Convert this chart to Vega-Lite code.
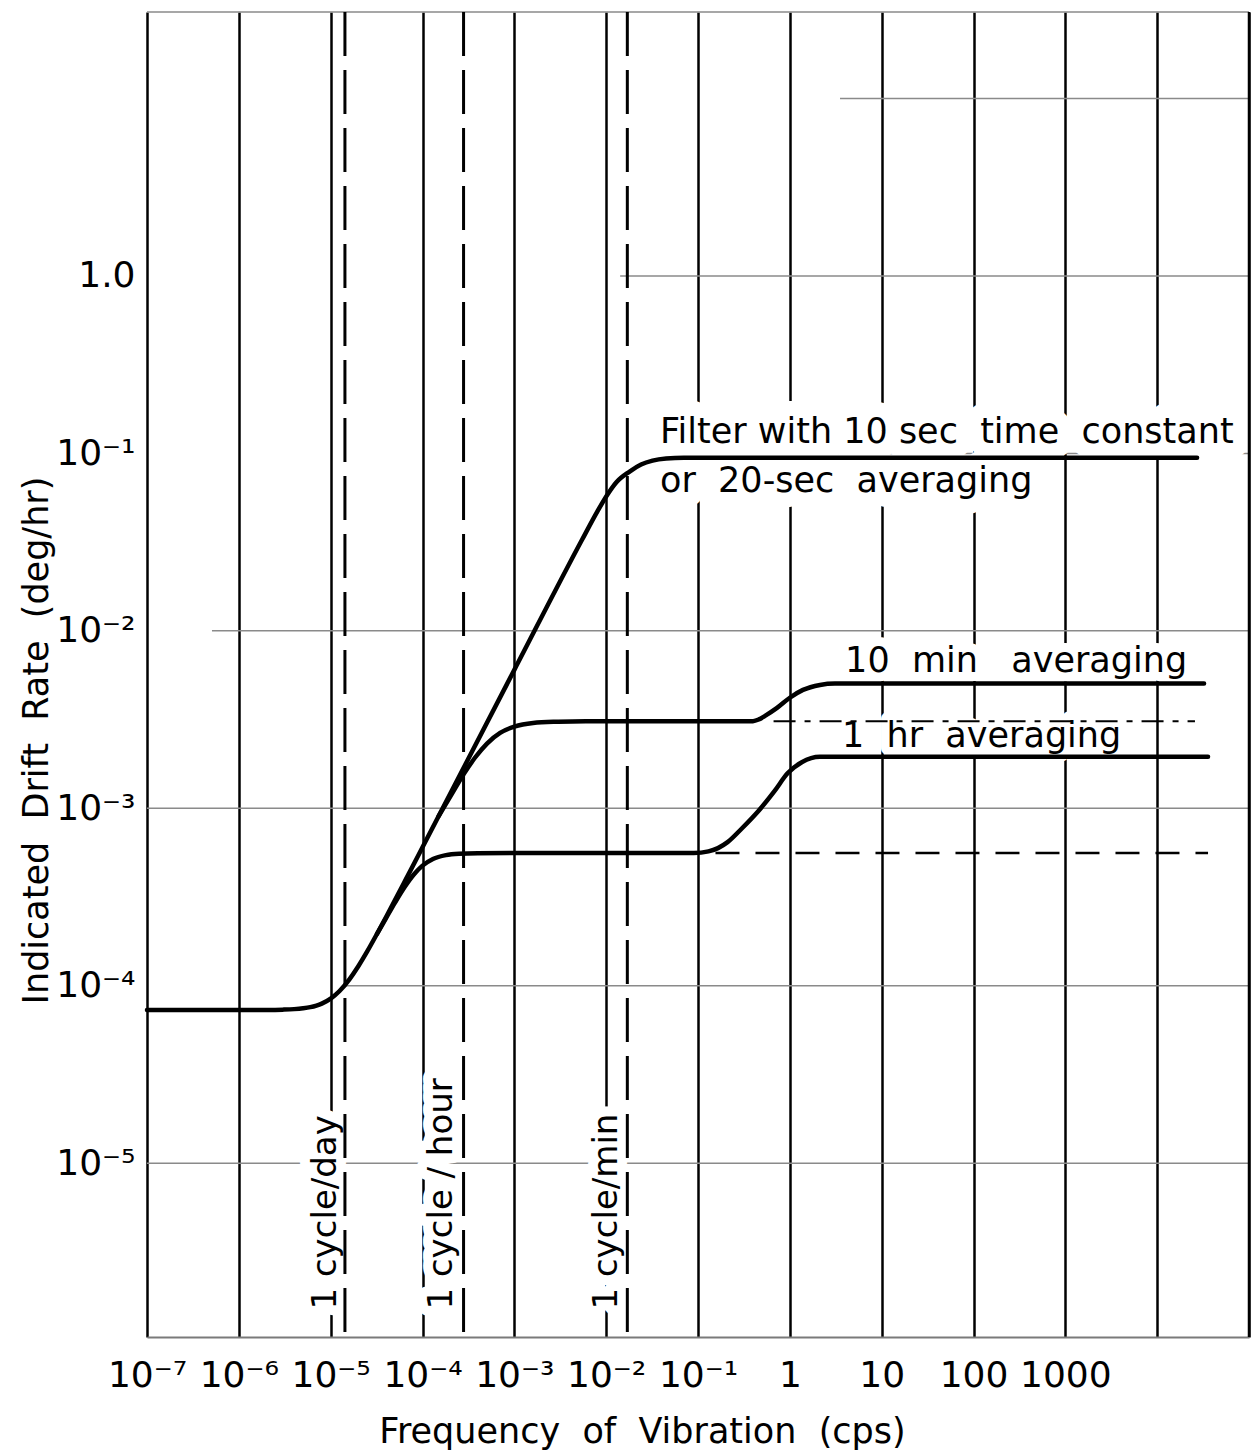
{
  "$schema": "https://vega.github.io/schema/vega-lite/v6.json",
  "width": 1102,
  "height": 1325,
  "autosize": {"type": "none"},
  "padding": {"left": 147, "top": 12, "right": 4, "bottom": 114},
  "background": "white",
  "config": {
    "view": {"stroke": null},
    "font": "DejaVu Sans",
    "text": {"font": "DejaVu Sans", "color": "black"}
  },
  "datasets": {
    "hgrid": [
      {"d": 30.7, "f": 1e-7, "f2": 100000},
      {"d": 10, "f": 3.52, "f2": 100000},
      {"d": 1, "f": 0.0142, "f2": 100000},
      {"d": 0.1, "f": 0.0386, "f2": 100000},
      {"d": 0.01, "f": 5.1e-7, "f2": 100000},
      {"d": 0.001, "f": 1e-7, "f2": 100000},
      {"d": 0.0001, "f": 1.43e-5, "f2": 100000},
      {"d": 0.00001, "f": 1e-7, "f2": 100000}
    ],
    "frame": [
      {"f": 100000}
    ],
    "cycles": [
      {"label": "1 cycle/day", "f": 1.43e-5},
      {"label": "1 cycle / hour", "f": 2.8e-4},
      {"label": "1 cycle/min", "f": 1.7e-2}
    ],
    "cycleNotes": [
      {"label": "1 cycle/day", "f": 8.9e-6, "d": 1.5e-6},
      {"label": "1 cycle / hour", "f": 1.63e-4, "d": 1.5e-6},
      {"label": "1 cycle/min", "f": 1.02e-2, "d": 1.5e-6}
    ],
    "notes": [
      {"group": "filter", "label": "Filter with 10 sec\u00a0 time\u00a0 constant", "f": 0.0386, "d": 0.1146},
      {"group": "filter", "label": "or\u00a0 20-sec\u00a0 averaging", "f": 0.0386, "d": 0.0607},
      {"group": "averaging", "label": "10\u00a0 min\u00a0\u00a0 averaging", "f": 4.0, "d": 0.00587},
      {"group": "averaging", "label": "1\u00a0 hr\u00a0 averaging", "f": 3.7, "d": 0.00222}
    ],
    "continuations": [
      {"series": "10 min", "f": 0.665, "f2": 25800, "d": 0.0031},
      {"series": "1 hr", "f": 0.155, "f2": 35800, "d": 0.00056}
    ],
    "curves": [
      {"series": "filter", "f": 1e-7, "d": 7.3e-5},
      {"series": "filter", "f": 1e-6, "d": 7.3e-5},
      {"series": "filter", "f": 2e-6, "d": 7.31e-5},
      {"series": "filter", "f": 3e-6, "d": 7.34e-5},
      {"series": "filter", "f": 4e-6, "d": 7.39e-5},
      {"series": "filter", "f": 5e-6, "d": 7.47e-5},
      {"series": "filter", "f": 6e-6, "d": 7.58e-5},
      {"series": "filter", "f": 7e-6, "d": 7.74e-5},
      {"series": "filter", "f": 8e-6, "d": 7.94e-5},
      {"series": "filter", "f": 1e-5, "d": 8.47e-5},
      {"series": "filter", "f": 1.25e-5, "d": 9.35e-5},
      {"series": "filter", "f": 1.6e-5, "d": 1.088e-4},
      {"series": "filter", "f": 2e-5, "d": 1.289e-4},
      {"series": "filter", "f": 2.5e-5, "d": 1.562e-4},
      {"series": "filter", "f": 3.2e-5, "d": 1.964e-4},
      {"series": "filter", "f": 4e-5, "d": 2.434e-4},
      {"series": "filter", "f": 5e-5, "d": 3.028e-4},
      {"series": "filter", "f": 6.5e-5, "d": 3.926e-4},
      {"series": "filter", "f": 1e-4, "d": 6.03e-4},
      {"series": "filter", "f": 1e-3, "d": 6.03e-3},
      {"series": "filter", "f": 5.46e-3, "d": 3.26e-2},
      {"series": "filter", "f": 8e-3, "d": 4.7e-2},
      {"series": "filter", "f": 1.03e-2, "d": 5.85e-2},
      {"series": "filter", "f": 1.3e-2, "d": 6.9e-2},
      {"series": "filter", "f": 1.8e-2, "d": 7.9e-2},
      {"series": "filter", "f": 2.4e-2, "d": 8.65e-2},
      {"series": "filter", "f": 3.2e-2, "d": 9.1e-2},
      {"series": "filter", "f": 4.5e-2, "d": 9.35e-2},
      {"series": "filter", "f": 7e-2, "d": 9.44e-2},
      {"series": "filter", "f": 27200, "d": 9.44e-2},

      {"series": "10 min", "f": 1.5e-4, "d": 9.05e-4},
      {"series": "10 min", "f": 2.2e-4, "d": 1.262e-3},
      {"series": "10 min", "f": 2.8e-4, "d": 1.554e-3},
      {"series": "10 min", "f": 3.74e-4, "d": 1.934e-3},
      {"series": "10 min", "f": 5.04e-4, "d": 2.318e-3},
      {"series": "10 min", "f": 7e-4, "d": 2.66e-3},
      {"series": "10 min", "f": 1e-3, "d": 2.89e-3},
      {"series": "10 min", "f": 1.6e-3, "d": 3.03e-3},
      {"series": "10 min", "f": 3e-3, "d": 3.08e-3},
      {"series": "10 min", "f": 6e-3, "d": 3.1e-3},
      {"series": "10 min", "f": 0.397, "d": 3.1e-3},
      {"series": "10 min", "f": 0.46, "d": 3.17e-3},
      {"series": "10 min", "f": 0.537, "d": 3.32e-3},
      {"series": "10 min", "f": 0.7255, "d": 3.68e-3},
      {"series": "10 min", "f": 1.0, "d": 4.2e-3},
      {"series": "10 min", "f": 1.39, "d": 4.65e-3},
      {"series": "10 min", "f": 2.13, "d": 4.96e-3},
      {"series": "10 min", "f": 3.1, "d": 5.05e-3},
      {"series": "10 min", "f": 32400, "d": 5.05e-3},

      {"series": "1 hr", "f": 3.2e-5, "d": 1.964e-4},
      {"series": "1 hr", "f": 4e-5, "d": 2.40e-4},
      {"series": "1 hr", "f": 5e-5, "d": 2.934e-4},
      {"series": "1 hr", "f": 6.5e-5, "d": 3.652e-4},
      {"series": "1 hr", "f": 8e-5, "d": 4.226e-4},
      {"series": "1 hr", "f": 1e-4, "d": 4.757e-4},
      {"series": "1 hr", "f": 1.3e-4, "d": 5.188e-4},
      {"series": "1 hr", "f": 1.8e-4, "d": 5.453e-4},
      {"series": "1 hr", "f": 2.5e-4, "d": 5.552e-4},
      {"series": "1 hr", "f": 4e-4, "d": 5.59e-4},
      {"series": "1 hr", "f": 1e-3, "d": 5.6e-4},
      {"series": "1 hr", "f": 0.09, "d": 5.6e-4},
      {"series": "1 hr", "f": 0.13, "d": 5.72e-4},
      {"series": "1 hr", "f": 0.165, "d": 5.97e-4},
      {"series": "1 hr", "f": 0.21, "d": 6.45e-4},
      {"series": "1 hr", "f": 0.3, "d": 7.7e-4},
      {"series": "1 hr", "f": 0.45, "d": 9.6e-4},
      {"series": "1 hr", "f": 0.68, "d": 1.25e-3},
      {"series": "1 hr", "f": 0.95, "d": 1.58e-3},
      {"series": "1 hr", "f": 1.35, "d": 1.82e-3},
      {"series": "1 hr", "f": 2.13, "d": 1.95e-3},
      {"series": "1 hr", "f": 3.52, "d": 1.95e-3},
      {"series": "1 hr", "f": 35800, "d": 1.95e-3}
    ]
  },
  "layer": [
    {
      "data": {"name": "hgrid"},
      "mark": {"type": "rule", "color": "#8a8a8a", "strokeWidth": 1.5},
      "encoding": {
        "x": {
          "field": "f", "type": "quantitative",
          "scale": {"type": "log", "domain": [1e-7, 100000], "nice": false},
          "axis": {
            "title": "Frequency\u00a0 of\u00a0 Vibration\u00a0 (cps)",
            "values": [1e-7, 1e-6, 1e-5, 1e-4, 1e-3, 1e-2, 1e-1, 1, 10, 100, 1000, 10000, 100000],
            "labelExpr": "datum.value >= 10000 ? '' : datum.value >= 1 ? format(datum.value, 'd') + '\u2002' : '10⁻' + ['', '¹', '²', '³', '⁴', '⁵', '⁶', '⁷'][round(-log(datum.value) / LN10)]",
            "grid": true, "gridColor": "black", "gridWidth": 2.5, "gridOpacity": 1,
            "ticks": false, "tickSize": 0, "zindex": 0,
            "domain": true, "domainColor": "#7a7a7a", "domainWidth": 2,
            "labelFont": "DejaVu Sans", "labelFontSize": 36, "labelColor": "black",
            "labelPadding": 21, "labelDx": 9, "labelFlush": false, "labelOverlap": false, "labelBound": false,
            "titleFont": "DejaVu Sans", "titleFontSize": 35, "titleFontWeight": "normal", "titleColor": "black",
            "titleX": 495, "titleY": 105, "titleAlign": "center", "titleBaseline": "alphabetic"
          }
        },
        "x2": {"field": "f2"},
        "y": {
          "field": "d", "type": "quantitative",
          "scale": {"type": "log", "domain": [1.05e-6, 30.7], "nice": false},
          "axis": {
            "title": "Indicated\u00a0 Drift\u00a0 Rate\u00a0 (deg/hr)",
            "values": [1, 0.1, 0.01, 0.001, 0.0001, 0.00001],
            "labelExpr": "datum.value >= 1 ? '1.0' : '10⁻' + ['', '¹', '²', '³', '⁴', '⁵', '⁶', '⁷'][round(-log(datum.value) / LN10)]",
            "grid": false, "domain": false, "ticks": false, "tickSize": 0, "zindex": 0,
            "labelFont": "DejaVu Sans", "labelFontSize": 36, "labelColor": "black",
            "labelPadding": 12, "labelFlush": false, "labelOverlap": false, "labelBound": false,
            "titleFont": "DejaVu Sans", "titleFontSize": 35, "titleFontWeight": "normal", "titleColor": "black",
            "titleAngle": 270, "titleX": -100, "titleY": 728, "titleAlign": "center", "titleBaseline": "alphabetic"
          }
        }
      }
    },
    {
      "data": {"name": "notes"},
      "transform": [{"filter": "datum.group == 'filter'"}],
      "mark": {"type": "text", "align": "left", "baseline": "alphabetic", "fontSize": 35, "fill": "white", "stroke": "white", "strokeWidth": 30, "strokeJoin": "round"},
      "encoding": {
        "x": {"field": "f", "type": "quantitative", "scale": {"type": "log", "domain": [1e-7, 100000], "nice": false}},
        "y": {"field": "d", "type": "quantitative", "scale": {"type": "log", "domain": [1.05e-6, 30.7], "nice": false}},
        "text": {"field": "label"}
      }
    },
    {
      "data": {"name": "notes"},
      "transform": [{"filter": "datum.group == 'averaging'"}],
      "mark": {"type": "text", "align": "left", "baseline": "alphabetic", "fontSize": 35, "fill": "white", "stroke": "white", "strokeWidth": 18, "strokeJoin": "round"},
      "encoding": {
        "x": {"field": "f", "type": "quantitative", "scale": {"type": "log", "domain": [1e-7, 100000], "nice": false}},
        "y": {"field": "d", "type": "quantitative", "scale": {"type": "log", "domain": [1.05e-6, 30.7], "nice": false}},
        "text": {"field": "label"}
      }
    },
    {
      "data": {"name": "cycleNotes"},
      "mark": {"type": "text", "align": "left", "baseline": "middle", "angle": 270, "fontSize": 34, "fill": "white", "stroke": "white", "strokeWidth": 20, "strokeJoin": "round"},
      "encoding": {
        "x": {"field": "f", "type": "quantitative", "scale": {"type": "log", "domain": [1e-7, 100000], "nice": false}},
        "y": {"field": "d", "type": "quantitative", "scale": {"type": "log", "domain": [1.05e-6, 30.7], "nice": false}},
        "text": {"field": "label"}
      }
    },
    {
      "data": {"name": "frame"},
      "mark": {"type": "rule", "color": "black", "strokeWidth": 2.5},
      "encoding": {
        "x": {"field": "f", "type": "quantitative", "scale": {"type": "log", "domain": [1e-7, 100000], "nice": false}}
      }
    },
    {
      "data": {"name": "cycles"},
      "mark": {"type": "rule", "color": "black", "strokeWidth": 3, "strokeDash": [44, 14]},
      "encoding": {
        "x": {"field": "f", "type": "quantitative", "scale": {"type": "log", "domain": [1e-7, 100000], "nice": false}}
      }
    },
    {
      "data": {"name": "continuations"},
      "transform": [{"filter": "datum.series == '1 hr'"}],
      "mark": {"type": "rule", "color": "black", "strokeWidth": 2.5, "strokeDash": [24, 16]},
      "encoding": {
        "x": {"field": "f", "type": "quantitative", "scale": {"type": "log", "domain": [1e-7, 100000], "nice": false}},
        "x2": {"field": "f2"},
        "y": {"field": "d", "type": "quantitative", "scale": {"type": "log", "domain": [1.05e-6, 30.7], "nice": false}}
      }
    },
    {
      "data": {"name": "continuations"},
      "transform": [{"filter": "datum.series == '10 min'"}],
      "mark": {"type": "rule", "color": "black", "strokeWidth": 2, "strokeDash": [22, 9, 6, 9]},
      "encoding": {
        "x": {"field": "f", "type": "quantitative", "scale": {"type": "log", "domain": [1e-7, 100000], "nice": false}},
        "x2": {"field": "f2"},
        "y": {"field": "d", "type": "quantitative", "scale": {"type": "log", "domain": [1.05e-6, 30.7], "nice": false}}
      }
    },
    {
      "data": {"name": "curves"},
      "mark": {"type": "line", "color": "black", "strokeWidth": 4.5, "interpolate": "monotone", "strokeCap": "round"},
      "encoding": {
        "x": {"field": "f", "type": "quantitative", "scale": {"type": "log", "domain": [1e-7, 100000], "nice": false}},
        "y": {"field": "d", "type": "quantitative", "scale": {"type": "log", "domain": [1.05e-6, 30.7], "nice": false}},
        "detail": {"field": "series"}
      }
    },
    {
      "data": {"name": "notes"},
      "mark": {"type": "text", "align": "left", "baseline": "alphabetic", "fontSize": 35, "fill": "black"},
      "encoding": {
        "x": {"field": "f", "type": "quantitative", "scale": {"type": "log", "domain": [1e-7, 100000], "nice": false}},
        "y": {"field": "d", "type": "quantitative", "scale": {"type": "log", "domain": [1.05e-6, 30.7], "nice": false}},
        "text": {"field": "label"}
      }
    },
    {
      "data": {"name": "cycleNotes"},
      "mark": {"type": "text", "align": "left", "baseline": "middle", "angle": 270, "fontSize": 34, "fill": "black"},
      "encoding": {
        "x": {"field": "f", "type": "quantitative", "scale": {"type": "log", "domain": [1e-7, 100000], "nice": false}},
        "y": {"field": "d", "type": "quantitative", "scale": {"type": "log", "domain": [1.05e-6, 30.7], "nice": false}},
        "text": {"field": "label"}
      }
    }
  ]
}
